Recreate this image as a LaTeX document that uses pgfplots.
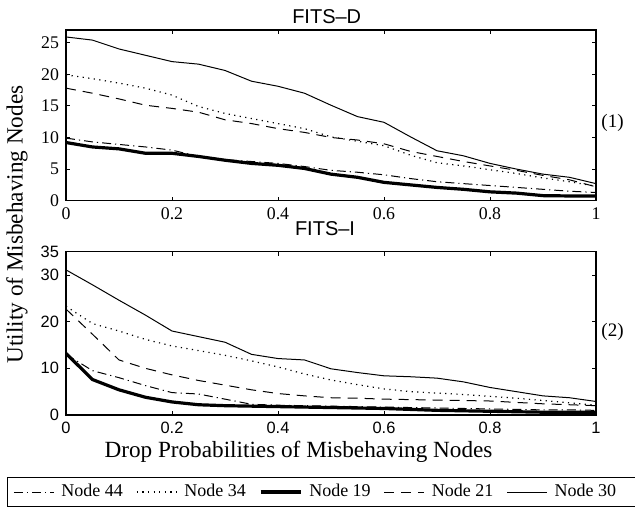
\documentclass[border=0pt]{standalone}
\usepackage{fontspec}
\setmainfont{Liberation Serif}
\newfontfamily\helv{Liberation Sans}
\usepackage{pgfplots}
\usepackage{pgfplotstable}
\pgfplotsset{compat=1.18}

\pgfplotstableread{
x    n44  n34  n19  n21  n30
0    9.9  19.9 9.2  17.8 25.9
0.05 9.3  19.3 8.5  17.0 25.4
0.10 8.9  18.6 8.2  16.1 24.0
0.15 8.5  17.8 7.5  15.1 23.0
0.20 8.0  16.7 7.5  14.6 22.0
0.25 7.0  14.9 7.0  14.0 21.6
0.30 6.5  13.8 6.4  12.8 20.6
0.35 6.2  13.0 5.9  12.2 18.9
0.40 5.9  12.2 5.6  11.4 18.1
0.45 5.4  11.4 5.1  10.8 17.0
0.50 4.8  10.1 4.2  10.0 15.1
0.55 4.5  9.4  3.7  9.6  13.3
0.60 4.1  8.7  2.9  9.0  12.4
0.65 3.5  7.2  2.5  7.8  10.1
0.70 3.0  6.0  2.1  7.0  7.9
0.75 2.7  5.5  1.8  6.2  7.1
0.80 2.4  4.9  1.4  5.5  5.9
0.85 2.1  4.3  1.2  4.8  5.0
0.90 1.8  3.6  0.8  4.0  4.2
0.95 1.5  3.0  0.75 3.3  3.7
1.00 1.3  2.3  0.75 2.2  2.7
}\dataD

\pgfplotstableread{
x    n44  n34  n19  n21  n30
0    13.0 23.3 13.2 22.7 31.1
0.05 9.5  19.6 7.6  17.3 27.9
0.10 8.0  18.0 5.4  11.8 24.6
0.15 6.3  16.2 3.8  10.0 21.4
0.20 4.8  14.8 2.8  8.6  18.0
0.25 4.5  13.8 2.2  7.4  16.8
0.30 3.4  12.8 2.0  6.4  15.6
0.35 2.3  11.6 1.9  5.4  13.0
0.40 2.1  10.3 1.8  4.6  12.1
0.45 2.0  8.8  1.7  4.1  11.8
0.50 1.9  7.5  1.6  3.7  9.9
0.55 1.8  6.5  1.5  3.6  9.1
0.60 1.7  5.6  1.4  3.4  8.4
0.65 1.6  5.0  1.2  3.3  8.2
0.70 1.5  4.7  1.0  3.2  7.9
0.75 1.4  4.4  0.9  3.1  7.1
0.80 1.3  4.0  0.8  3.0  5.9
0.85 1.2  3.6  0.7  2.7  5.0
0.90 1.1  3.1  0.6  2.4  4.1
0.95 1.1  2.6  0.6  2.2  3.7
1.00 1.0  2.1  0.6  2.0  2.9
}\dataI

\tikzset{
  s44/.style={black, line width=0.5pt, dash pattern=on 4.5pt off 2pt on 0.6pt off 2pt},
  s34/.style={black, line width=0.6pt, dash pattern=on 0.6pt off 2.2pt},
  s19/.style={black, line width=1.6pt},
  s21/.style={black, line width=0.5pt, dash pattern=on 5pt off 3.5pt},
  s30/.style={black, line width=0.5pt},
}

\pgfplotsset{
  common/.style={
    scale only axis, width=265pt,
    xmin=0, xmax=1,
    xtick={0,0.2,0.4,0.6,0.8,1},
    tick align=inside,
    major tick length=2pt,
    axis line style={line width=0.6pt},
    every tick/.style={black, line width=0.5pt},
    /pgf/number format/assume math mode=true,
    legend image code/.code={\draw[#1] (0pt,0pt) -- (20pt,0pt);},
  }
}

\begin{document}
\begin{tikzpicture}
\begin{axis}[common,
  at={(33pt,154.15pt)}, anchor=south west,
  height=85.35pt,
  ymin=0, ymax=27,
  ytick={0,5,10,15,20,25},
  ticklabel style={font=\fontsize{8.9}{9}\selectfont},
]
\addplot[s44] table[x=x,y=n44]{\dataD};
\addplot[s34] table[x=x,y=n34]{\dataD};
\addplot[s21] table[x=x,y=n21]{\dataD};
\addplot[s30] table[x=x,y=n30]{\dataD};
\addplot[s19] table[x=x,y=n19]{\dataD};
\end{axis}

\begin{axis}[common,
  at={(33pt,47pt)}, anchor=south west,
  height=81.65pt,
  ymin=0, ymax=35,
  ytick={0,10,20,30,35},
  ticklabel style={font=\helv\fontsize{8.2}{9}\selectfont},
  legend columns=6,
  legend cell align=left,
  legend style={at={(-0.1108,-0.3815)}, anchor=north west, draw=black, line width=0.5pt,
    font=\fontsize{9}{10}\selectfont, inner ysep=3pt, inner xsep=2.85pt,
    nodes={inner sep=0pt, text height=6.3pt, text depth=1.9pt},
    /tikz/every odd column/.append style={column sep=3.5pt},
    /tikz/every even column/.append style={column sep=6.6pt}},
]
\addplot[s44] table[x=x,y=n44]{\dataI};
\addlegendentry{Node 44}
\addplot[s34] table[x=x,y=n34]{\dataI};
\addlegendentry{Node 34}
\addplot[s19] table[x=x,y=n19]{\dataI};
\addlegendentry{Node 19}
\addplot[s21] table[x=x,y=n21]{\dataI};
\addlegendentry{Node 21}
\addplot[s30] table[x=x,y=n30]{\dataI};
\addlegendentry{Node 30}
\addlegendimage{empty legend}
\addlegendentry{\hspace{14pt}}
\end{axis}

\node[anchor=base, font=\helv\fontsize{10}{11}\selectfont] at (163.35pt,242.85pt) {FITS\textendash D};
\node[anchor=base, font=\helv\fontsize{10}{11}\selectfont] at (162.5pt,137pt) {FITS\textendash I};
\node[rotate=90, font=\fontsize{11.6}{12}\selectfont] at (8.5pt,142.25pt) {Utility of Misbehaving Nodes};
\node[anchor=base, font=\fontsize{11.6}{12}\selectfont] at (149.25pt,26pt) {Drop Probabilities of Misbehaving Nodes};
\node[font=\fontsize{9.5}{10}\selectfont] at (306.25pt,193pt) {(1)};
\node[font=\fontsize{9.5}{10}\selectfont] at (306.25pt,88.65pt) {(2)};

\pgfresetboundingbox
\path[use as bounding box] (0pt,0pt) rectangle (317.5pt,254.5pt);
\end{tikzpicture}
\end{document}
